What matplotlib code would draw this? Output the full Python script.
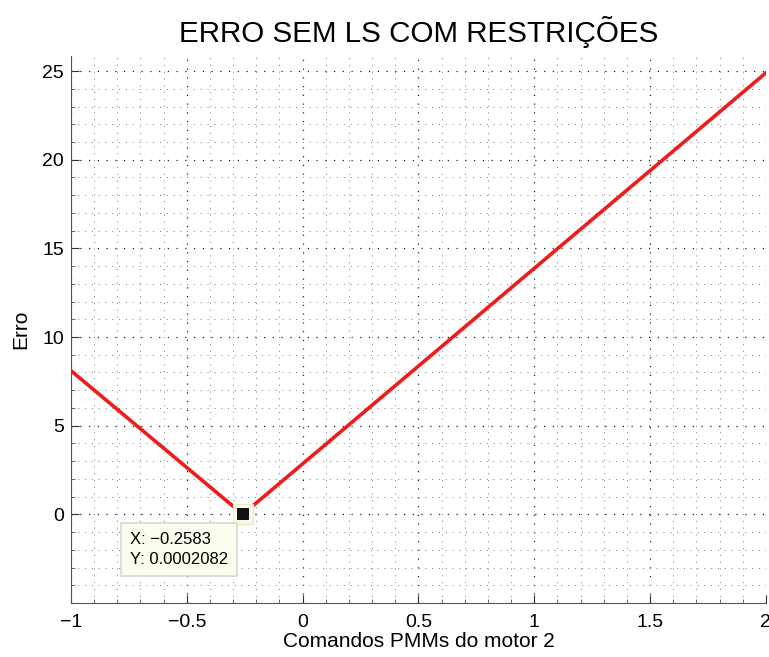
import matplotlib
matplotlib.use("Agg")
import matplotlib.pyplot as plt
from matplotlib.ticker import MultipleLocator

plt.rcParams["font.family"] = ["Liberation Sans", "DejaVu Sans"]

# curve
cmd_x = [-1.0, -0.2583, 2.0]
erro_y = [8.1, 0.0002082, 24.9]

tip_x = -0.2583
tip_y = 0.0002082
tip_text = "X: \u22120.2583\nY: 0.0002082"

x_ticks = [-1, -0.5, 0, 0.5, 1, 1.5, 2]
x_labels = ["\u22121", "\u22120.5", "0", "0.5", "1", "1.5", "2"]
y_ticks = [0, 5, 10, 15, 20, 25]

fig = plt.figure(figsize=(7.69, 6.57), dpi=100)
ax = fig.add_axes([0.0923, 0.0822, 0.9037, 0.8326])

ax.plot(cmd_x, erro_y, color="#ee1c1c", linewidth=2.6, zorder=3)

# data tip: pale square behind a black marker, plus the label box
ax.plot([tip_x], [tip_y], marker="s", markersize=15, color="#fbf9e4",
        markeredgecolor="#e8e6d0", markeredgewidth=0.8, zorder=4)
ax.plot([tip_x], [tip_y], marker="s", markersize=8.5, color="#111111",
        markeredgewidth=0, zorder=5)
ax.text(-0.745, -1.98, tip_text, fontsize=12, va="center", ha="left", zorder=6,
        linespacing=1.35,
        bbox=dict(boxstyle="square,pad=0.55", facecolor="#fdfdef",
                  edgecolor="#d8d8d0", linewidth=1.2))

ax.set_xlim(-1, 2)
ax.set_ylim(-5, 25.85)
ax.set_xticks(x_ticks)
ax.set_xticklabels(x_labels)
ax.set_yticks(y_ticks)
ax.xaxis.set_minor_locator(MultipleLocator(0.1))
ax.yaxis.set_minor_locator(MultipleLocator(1))

ax.grid(True, which="major", color="#222222", linestyle=(0, (1, 6)), linewidth=0.9)
ax.grid(True, which="minor", color="#777777", linestyle=(0, (1, 6)), linewidth=0.7)
ax.set_axisbelow(True)

ax.spines["top"].set_visible(False)
ax.spines["right"].set_visible(False)
ax.spines["left"].set_color("#555555")
ax.spines["bottom"].set_color("#555555")
ax.tick_params(which="major", direction="in", length=6, labelsize=14, color="#333333")
ax.tick_params(axis="x", which="major", pad=8)
ax.tick_params(axis="y", which="major", pad=5)
ax.tick_params(which="minor", direction="in", length=3, color="#555555")

ax.set_title("ERRO SEM LS COM RESTRIÇÕES", fontsize=21.3, pad=10)
ax.set_xlabel("Comandos PMMs do motor 2", fontsize=15, labelpad=1)
ax.set_ylabel("Erro", fontsize=15, labelpad=9)

fig.savefig("out.png", dpi=100)
